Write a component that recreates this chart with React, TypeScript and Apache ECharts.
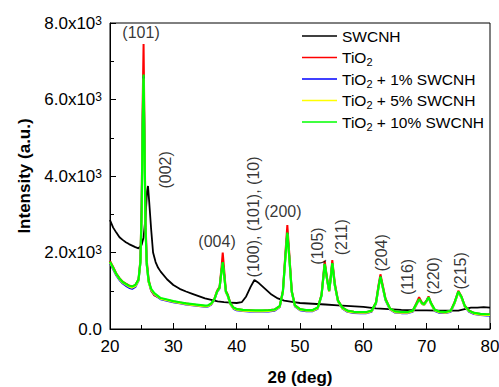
import React, { useEffect, useRef } from "react";
import * as echarts from "echarts";

// 2θ grid shared by the TiO2-based samples
const thetaTiO2 = [
  20, 20.5, 21, 21.5, 22, 22.5, 23, 23.5, 24, 24.5,
  24.8, 25.0, 25.15, 25.3, 25.45, 25.6, 25.8, 26.1, 26.5, 27,
  28, 29, 30, 31, 32, 33, 34, 35, 35.5, 36,
  36.5, 36.9, 37.3, 37.6, 37.8, 38.0, 38.3, 38.6, 39.0, 39.5,
  40, 41, 42, 43, 44, 45, 46, 46.8, 47.3, 47.7,
  48.0, 48.3, 48.7, 49.2, 50, 51, 52, 52.8, 53.4, 53.9,
  54.3, 54.6, 54.8, 55.1, 55.5, 56, 56.7, 57.5, 58.5, 59.5,
  60.5, 61.3, 62.0, 62.4, 62.7, 63.0, 63.5, 64.2, 65, 66,
  67, 67.8, 68.3, 68.8, 69.3, 69.6, 70.0, 70.3, 70.7, 71.3,
  72, 73, 73.8, 74.4, 75.0, 75.5, 76.0, 76.7, 77.5, 78.5,
  79.5, 80,
];

const tio2 = [
  1780, 1620, 1450, 1330, 1240, 1190, 1140, 1110, 1150, 1300,
  1800, 3300, 5800, 7450, 5200, 2900, 1800, 1300, 1000, 880,
  800, 760, 720, 690, 665, 640, 620, 600, 610, 660,
  800, 1000, 1100, 1600, 2000, 1600, 1000, 900, 680, 560,
  520, 500, 490, 480, 480, 490, 510, 600, 1000, 2000,
  2720, 2000, 1000, 620, 520, 490, 490, 560, 900, 1780,
  1300, 1000, 1300, 1800, 1200, 750, 560, 480, 450, 440,
  440, 480, 700, 1150, 1430, 1200, 800, 540, 460, 440,
  440, 480, 650, 830, 680, 660, 760, 850, 680, 500,
  450, 440, 480, 700, 1000, 850, 620, 480, 420, 390,
  380, 380,
];

const tio2Swcnh1 = [
  1720, 1560, 1400, 1280, 1190, 1130, 1080, 1050, 1100, 1260,
  1730, 3050, 5250, 6600, 4750, 2680, 1690, 1230, 1010, 900,
  780, 740, 700, 670, 640, 620, 600, 580, 590, 640,
  770, 960, 1060, 1490, 1730, 1440, 960, 860, 650, 530,
  490, 470, 460, 455, 455, 460, 480, 570, 960, 1890,
  2500, 1890, 960, 590, 490, 465, 465, 530, 870, 1690,
  1260, 980, 1240, 1710, 1130, 720, 530, 450, 420, 415,
  415, 450, 660, 1080, 1360, 1130, 750, 510, 430, 415,
  415, 450, 610, 770, 650, 630, 730, 820, 650, 470,
  425, 415, 450, 670, 960, 820, 590, 450, 390, 365,
  355, 355,
];

const tio2Swcnh5 = [
  1740, 1580, 1420, 1300, 1210, 1160, 1110, 1080, 1120, 1270,
  1720, 3000, 5200, 6550, 4700, 2650, 1680, 1220, 1020, 910,
  790, 750, 710, 680, 650, 630, 610, 590, 600, 650,
  780, 970, 1070, 1480, 1720, 1430, 960, 860, 650, 540,
  500, 480, 470, 465, 465, 470, 490, 580, 960, 1880,
  2480, 1880, 960, 600, 500, 475, 475, 540, 870, 1680,
  1260, 980, 1240, 1700, 1130, 720, 540, 460, 430, 425,
  425, 460, 670, 1080, 1350, 1130, 760, 520, 440, 425,
  425, 460, 610, 770, 650, 630, 730, 820, 650, 480,
  435, 425, 460, 670, 960, 820, 590, 460, 400, 375,
  365, 365,
];

const tio2Swcnh10 = [
  1760, 1600, 1440, 1320, 1230, 1180, 1130, 1110, 1150, 1290,
  1750, 3100, 5300, 6650, 4800, 2700, 1700, 1250, 1050, 940,
  810, 770, 730, 700, 670, 650, 630, 610, 620, 670,
  790, 980, 1080, 1500, 1750, 1450, 980, 880, 670, 560,
  520, 500, 490, 485, 485, 490, 510, 600, 980, 1900,
  2520, 1900, 980, 620, 520, 495, 495, 560, 880, 1700,
  1280, 1000, 1250, 1720, 1150, 740, 560, 480, 450, 445,
  445, 480, 690, 1100, 1370, 1150, 780, 540, 460, 445,
  445, 480, 630, 780, 670, 650, 740, 830, 670, 500,
  455, 445, 480, 690, 980, 840, 610, 480, 420, 395,
  385, 385,
];

// SWCNH pattern
const thetaSwcnh = [
  20, 20.5, 21, 21.5, 22, 22.5, 23, 23.5, 24, 24.5,
  25, 25.3, 25.6, 25.85, 26.0, 26.2, 26.5, 26.8, 27.2, 27.6,
  28, 29, 30, 31, 32, 33, 34, 35, 36, 37,
  38, 39, 40, 40.8, 41.5, 42.2, 42.8, 43.5, 44.5, 45.5,
  46.5, 47.5, 49, 50, 52, 54, 56, 58, 60, 62,
  64, 66, 68, 70, 72, 74, 75, 76, 77, 78,
  79, 80,
];
const swcnh = [
  2850, 2650, 2520, 2400, 2330, 2270, 2220, 2180, 2140, 2110,
  2200, 2400, 2900, 3600, 3740, 3300, 2600, 2000, 1750, 1600,
  1500, 1300, 1150, 1050, 980, 920, 860, 800, 760, 720,
  700, 690, 680, 700, 850, 1100, 1280, 1200, 1050, 900,
  800, 740, 700, 680, 660, 640, 620, 600, 580, 540,
  520, 500, 490, 485, 480, 480, 480, 520, 560, 560,
  570, 560,
];

const seriesNames = [
  "SWCNH",
  "TiO2",
  "TiO2 + 1% SWCNH",
  "TiO2 + 5% SWCNH",
  "TiO2 + 10% SWCNH",
];
const seriesColors = ["#000000", "#ff0000", "#0000ff", "#ffff00", "#00ff00"];

// Miller-index annotations (anchor in data coordinates)
const peakLabels = ["(101)", "(002)", "(004)", "(100), (101), (10)", "(200)", "(105)", "(211)", "(204)", "(116)", "(220)", "(215)"];
const peakLabelTheta = [24.9, 28.7, 36.9, 42.6, 47.3, 52.7, 56.6, 62.8, 67.05, 71.0, 75.3];
const peakLabelY = [7740, 4160, 2300, 2930, 3060, 2170, 2400, 1990, 1360, 1390, 1520];
const peakLabelVertical = [false, true, false, true, false, true, true, true, true, true, true];

const xTicks = { min: 20, max: 80, interval: 10 };
const yTicks = { min: 0, max: 8000, interval: 2000 };

const FONT = "'Liberation Sans', Arial, Helvetica, sans-serif";

export default function App() {
  const ref = useRef<HTMLDivElement>(null);

  useEffect(() => {
    document.body.style.margin = "0";
    if (!ref.current) return;
    const chart = echarts.init(ref.current, null, { renderer: "svg" });

    const pairs = (xs: number[], ys: number[]) => xs.map((x, i) => [x, ys[i]]);
    const dataSets = [
      pairs(thetaSwcnh, swcnh),
      pairs(thetaTiO2, tio2),
      pairs(thetaTiO2, tio2Swcnh1),
      pairs(thetaTiO2, tio2Swcnh5),
      pairs(thetaTiO2, tio2Swcnh10),
    ];

    const lineWidths = [1.8, 2, 2, 2, 2.2];
    const lineSeries = seriesNames.map((name, i) => ({
      name,
      type: "line",
      data: dataSets[i],
      symbol: "none",
      showSymbol: false,
      smooth: false,
      lineStyle: { color: seriesColors[i], width: lineWidths[i] },
      itemStyle: { color: seriesColors[i] },
      z: 2 + i,
      silent: true,
    }));

    const annotation = {
      name: "labels",
      type: "scatter",
      symbolSize: 1,
      itemStyle: { color: "rgba(0,0,0,0)" },
      silent: true,
      z: 10,
      data: peakLabels.map((lab, i) => ({
        name: lab,
        value: [peakLabelTheta[i], peakLabelY[i]],
        label: {
          show: true,
          position: "inside",
          rotate: peakLabelVertical[i] ? 90 : 0,
          formatter: lab,
          fontSize: 16,
          color: "#000",
          fontFamily: FONT,
        },
      })),
    };

    chart.setOption({
      animation: false,
      textStyle: { fontFamily: FONT },
      grid: {
        left: 110,
        right: 9,
        top: 23,
        bottom: 58,
        show: true,
        borderColor: "#000",
        borderWidth: 1,
        backgroundColor: "transparent",
        containLabel: false,
        outerBoundsMode: "none",
      },
      legend: {
        data: seriesNames,
        orient: "vertical",
        left: 297,
        top: 21,
        icon: "rect",
        itemWidth: 35,
        itemHeight: 1.5,
        itemGap: 1.5,
        selectedMode: false,
        formatter: (name: string) => name.replace("TiO2", "TiO{sub|2}"),
        textStyle: {
          fontSize: 15.5,
          color: "#000",
          fontFamily: FONT,
          lineHeight: 20,
          rich: {
            sub: { fontSize: 11, verticalAlign: "bottom", fontFamily: FONT, color: "#000" },
          },
        },
      },
      xAxis: {
        type: "value",
        min: xTicks.min,
        max: xTicks.max,
        interval: xTicks.interval,
        name: "2θ (deg)",
        nameLocation: "middle",
        nameGap: 40,
        nameTextStyle: { fontSize: 17, fontWeight: "bold", color: "#000", fontFamily: FONT },
        axisLine: { show: true, lineStyle: { color: "#000", width: 1 } },
        axisTick: { show: true, inside: true, length: 6, lineStyle: { color: "#000" } },
        minorTick: { show: true, splitNumber: 2, length: 4, lineStyle: { color: "#000" } },
        splitLine: { show: false },
        axisLabel: { fontSize: 17, color: "#000", margin: 9, fontFamily: FONT },
      },
      yAxis: {
        type: "value",
        min: yTicks.min,
        max: yTicks.max,
        interval: yTicks.interval,
        name: "Intensity (a.u.)",
        nameLocation: "middle",
        nameGap: 76,
        nameTextStyle: { fontSize: 17, fontWeight: "bold", color: "#000", fontFamily: FONT },
        axisLine: { show: true, lineStyle: { color: "#000", width: 1 } },
        axisTick: { show: true, inside: true, length: 6, lineStyle: { color: "#000" } },
        minorTick: { show: true, splitNumber: 2, length: 4, lineStyle: { color: "#000" } },
        splitLine: { show: false },
        axisLabel: {
          margin: 8,
          color: "#000",
          formatter: (v: number) =>
            v === 0 ? "{b|0.0}" : `{b|${(v / 1000).toFixed(1)}x10}{sup|3}`,
          rich: {
            b: { fontSize: 17, color: "#000", fontFamily: FONT },
            sup: { fontSize: 12, verticalAlign: "top", color: "#000", fontFamily: FONT },
          },
        },
      },
      series: [...lineSeries, annotation],
    });

    return () => chart.dispose();
  }, []);

  return <div ref={ref} style={{ width: 499, height: 387 }} />;
}
